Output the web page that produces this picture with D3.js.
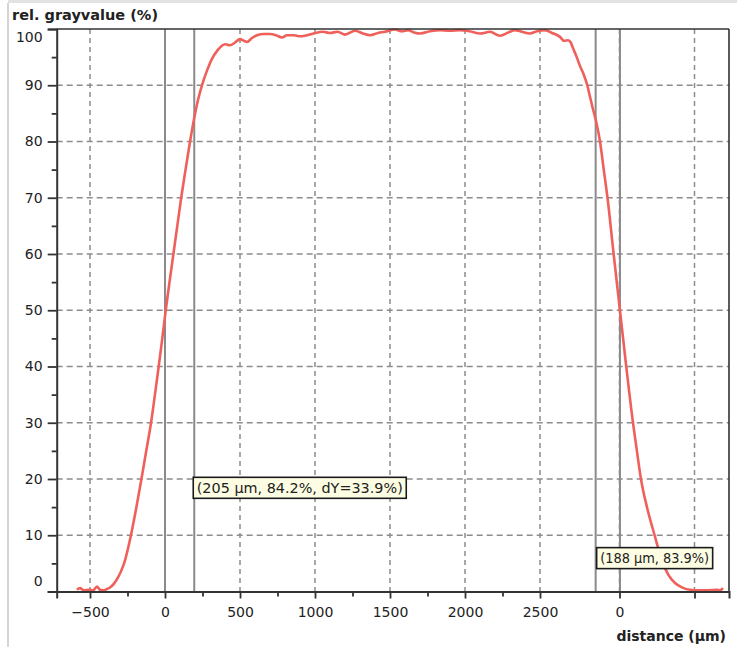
<!DOCTYPE html>
<html>
<head>
<meta charset="utf-8">
<script src="https://cdn.jsdelivr.net/npm/d3@7"></script>
<style>
  html, body { margin: 0; padding: 0; background: #fff; }
  svg { display: block; font-family: "DejaVu Sans", Verdana, sans-serif; }
</style>
</head>
<body>
<svg id="chart" width="737" height="647"></svg>
<script>
// profile data (distance in µm, relative grayvalue in %)
const distance = [
  -587, -567, -540, -510, -480, -453, -435, -413, -390, -367, -340, -313, -290, -267, -247,
  -227, -192, -157, -125, -93, -67, -42, -18, 5, 30, 56, 82, 108, 137, 167,
  195, 222, 250, 280, 313, 350, 400, 433, 467, 500, 527, 547, 580, 613, 660, 700,
  740, 780, 813, 860, 900, 933, 990, 1053, 1100, 1150, 1200, 1267, 1320, 1367, 1420, 1467,
  1533, 1580, 1620, 1660, 1700, 1767, 1833, 1900, 1967, 2030, 2100, 2167, 2233, 2290, 2333,
  2380, 2433, 2480, 2533, 2580, 2633, 2660, 2687, 2705, 2720, 2745, 2767, 2790, 2813, 2833,
  2850, 2871, 2900, 2925, 2950, 2991, 3033, 3075, 3120, 3146, 3173, 3213, 3264, 3307, 3355, 3400,
  3450, 3500, 3560, 3613, 3680, 3700, 3720
];
const grayvalue = [
  0.3, 0.6, 0.2, 0.3, 0.2, 0.9, 0.3, 0.2, 0.4, 0.7, 1.4, 2.5, 3.8, 5.5, 7.6,
  10, 14.8, 20, 25, 30, 35, 40, 45, 50, 55, 60, 65, 70, 75, 80,
  84.2, 87.6, 90.3, 92.6, 94.7, 96.2, 97.3, 97.1, 97.6, 98.2, 97.9, 97.7, 98.4, 98.9, 99.1, 99.1,
  98.9, 98.5, 98.9, 98.9, 98.7, 98.8, 99.2, 99.5, 99.3, 99.5, 99.0, 99.7, 99.2, 98.9, 99.3, 99.5,
  99.9, 99.6, 99.8, 99.4, 99.2, 99.6, 99.8, 99.7, 99.8, 99.6, 99.2, 99.5, 98.8, 99.4, 99.8,
  99.5, 99.2, 99.6, 99.8, 99.3, 98.6, 97.9, 98.0, 97.6, 96.6, 95.0, 93.4, 92.0, 90.2, 88.0,
  86.1, 83.9, 80, 75, 70, 60, 50, 40, 30, 25, 20, 15, 10, 6, 3, 1.5,
  0.7, 0.3, 0.2, 0.2, 0.3, 0.2, 0.6
];

// axis ticks
const xMajorTicks = [-500, 0, 500, 1000, 1500, 2000, 2500, 3030, 3530];
const xTickLabels = ["\u2212500", "0", "500", "1000", "1500", "2000", "2500", "0", ""];
const xMinorTicks = [-250, 250, 750, 1250, 1750, 2250];
const yMajorTicks = [0, 10, 20, 30, 40, 50, 60, 70, 80, 90, 100];
const yMinorTicks = [5, 15, 25, 35, 45, 55, 65, 75, 85, 95];

// measurement cursors and their readouts
const cursorLines = [0, 195, 2871, 3033];
const readoutText = ["(205 \u00b5m, 84.2%, dY=33.9%)", "(188 \u00b5m, 83.9%)"];
const readoutAt = [195, 2871];

const svg = d3.select("#chart");
const plotLeft = 56.7, plotRight = 729, plotTop = 29, plotBottom = 591.5;

const x = d3.scaleLinear().domain([-722, 3760]).range([plotLeft, plotRight]);
const y = d3.scaleLinear().domain([0, 100]).range([plotBottom, plotTop]);

// outer panel edges
svg.append("line").attr("x1", 8).attr("x2", 8).attr("y1", 3).attr("y2", 647)
  .attr("stroke", "#d4d4d4").attr("stroke-width", 2);
svg.append("line").attr("x1", 8).attr("x2", 737).attr("y1", 1.5).attr("y2", 1.5)
  .attr("stroke", "#e2e2e2").attr("stroke-width", 3);

// grid
const grid = svg.append("g");
grid.selectAll(".gx").data(xMajorTicks).join("line")
  .attr("x1", d => x(d)).attr("x2", d => x(d)).attr("y1", plotTop).attr("y2", plotBottom)
  .attr("stroke", "#8c8c8c").attr("stroke-width", 1.5).attr("stroke-dasharray", "5,4");
grid.selectAll(".gy").data(yMajorTicks.slice(1, -1)).join("line")
  .attr("x1", plotLeft).attr("x2", plotRight).attr("y1", d => y(d)).attr("y2", d => y(d))
  .attr("stroke", "#8c8c8c").attr("stroke-width", 1.5).attr("stroke-dasharray", "6,4");

// cursor lines
svg.append("g").selectAll("line").data(cursorLines).join("line")
  .attr("x1", d => x(d)).attr("x2", d => x(d)).attr("y1", plotTop).attr("y2", plotBottom)
  .attr("stroke", "#8a8a8a").attr("stroke-width", 2);

// profile curve
const line = d3.line()
  .x((d, i) => x(distance[i]))
  .y(d => y(d))
  .curve(d3.curveMonotoneX);
svg.append("path")
  .datum(grayvalue)
  .attr("d", line)
  .attr("fill", "none")
  .attr("stroke", "#ef605b")
  .attr("stroke-width", 2.6)
  .attr("stroke-linejoin", "round");

// frame
svg.append("line").attr("x1", plotLeft).attr("x2", plotRight).attr("y1", plotTop).attr("y2", plotTop)
  .attr("stroke", "#333").attr("stroke-width", 1.6);
svg.append("line").attr("x1", plotRight).attr("x2", plotRight).attr("y1", plotTop).attr("y2", plotBottom)
  .attr("stroke", "#333").attr("stroke-width", 1.6);

// x axis
svg.append("g").attr("transform", `translate(0,${plotBottom})`)
  .call(d3.axisBottom(x).tickValues(xMajorTicks).tickSize(7).tickPadding(9)
    .tickFormat((d, i) => xTickLabels[i]));
svg.append("g").attr("transform", `translate(0,${plotBottom})`)
  .call(d3.axisBottom(x).tickValues(xMinorTicks).tickSize(5).tickFormat(""))
  .call(g => g.select(".domain").remove());

// y axis
const yAxisG = svg.append("g").attr("transform", `translate(${plotLeft},0)`)
  .call(d3.axisLeft(y).tickValues(yMajorTicks).tickSize(9).tickPadding(5));
svg.append("g").attr("transform", `translate(${plotLeft},0)`)
  .call(d3.axisLeft(y).tickValues(yMinorTicks).tickSize(5).tickFormat(""))
  .call(g => g.select(".domain").remove());

svg.selectAll(".domain").attr("stroke", "#333").attr("stroke-width", 2);
svg.selectAll(".tick line").attr("stroke", "#333").attr("stroke-width", 1.8);
svg.selectAll(".tick text")
  .attr("fill", "#222")
  .style("font-family", "\"DejaVu Sans\", Verdana, sans-serif")
  .style("font-size", "14px");

// end labels sit inside the range
yAxisG.selectAll(".tick text").filter(d => d === 0).attr("dy", "-0.45em");
yAxisG.selectAll(".tick text").filter(d => d === 100).attr("dy", "0.88em");

// axis titles
svg.append("text").attr("x", 12).attr("y", 20)
  .attr("font-weight", "bold").attr("font-size", 14.5).attr("fill", "#222")
  .text("rel. grayvalue (%)");
svg.append("text").attr("x", 726).attr("y", 641).attr("text-anchor", "end")
  .attr("font-weight", "bold").attr("font-size", 14).attr("fill", "#222")
  .text("distance (\u00b5m)");

// cursor readouts
const boxTops = [y(20.3), y(7.8)];
const boxShift = [-1, 1];
const boxWidths = [213, 116];
readoutText.forEach((t, i) => {
  const g = svg.append("g")
    .attr("transform", `translate(${x(readoutAt[i]) + boxShift[i]},${boxTops[i]})`);
  g.append("rect").attr("width", boxWidths[i]).attr("height", 21)
    .attr("fill", "#fdfde3").attr("stroke", "#1a1a1a").attr("stroke-width", 1.6);
  g.append("text").attr("x", 3.5).attr("y", 15.5)
    .attr("font-size", 13.5).attr("fill", "#222")
    .attr("textLength", boxWidths[i] - 7).attr("lengthAdjust", "spacingAndGlyphs")
    .text(t);
});
</script>
</body>
</html>
